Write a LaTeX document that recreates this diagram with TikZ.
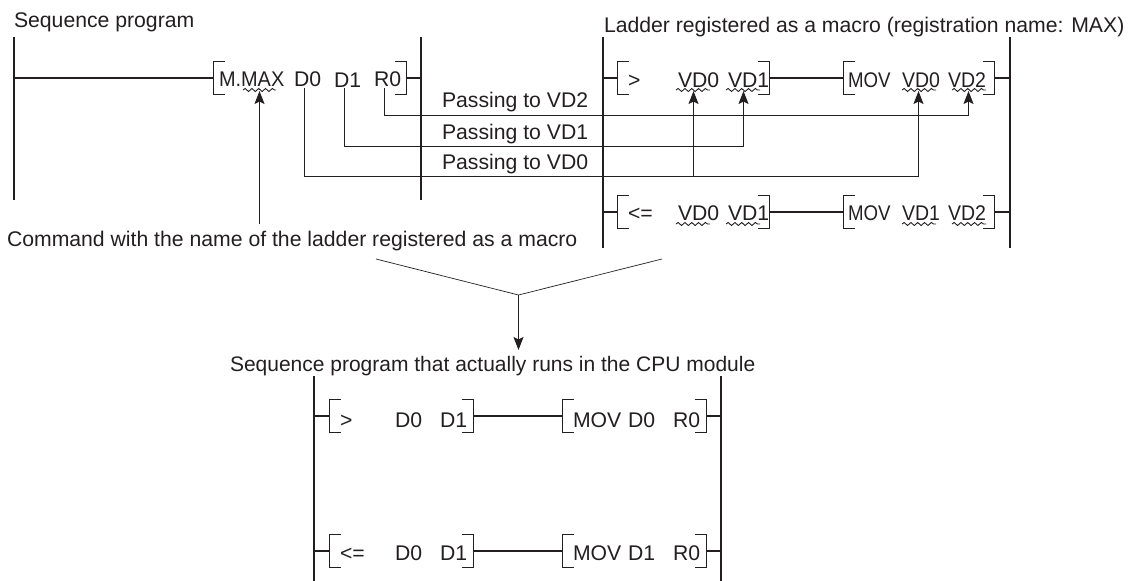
\documentclass[tikz,border=0pt]{standalone}
\usepackage{fontspec}
\setmainfont{Liberation Sans}
\usetikzlibrary{arrows.meta,decorations.pathmorphing}
\definecolor{ink}{HTML}{231F20}
\tikzset{
  txt/.style={anchor=base west,inner sep=0pt,outer sep=0pt,text=ink,font=\fontsize{21.2}{25}\selectfont},
  rail/.style={draw=ink,line width=2pt},
  rung/.style={draw=ink,line width=1.7pt},
  brk/.style={draw=ink,line width=1pt},
  wire/.style={draw=ink,line width=1pt},
  awire/.style={wire,-{Stealth[length=13pt,width=10pt,inset=2.5pt]}},
  thin line/.style={draw=ink,line width=0.7pt},
  wave/.style={draw=ink,line width=0.9pt,decorate,decoration={snake,amplitude=1.5pt,segment length=6.8pt}}
}
\newcommand{\brL}[3]{\coordinate (#1) at (#2,#3);\draw[brk] ({#2+11.5},{#3-16.5}) -| ({#2+0.5},{#3+16.5}) -- ({#2+11.5},{#3+16.5});}
\newcommand{\brR}[3]{\coordinate (#1) at (#2,#3);\draw[brk] ({#2-11.5},{#3-16.5}) -| ({#2+0.5},{#3+16.5}) -- ({#2-11.5},{#3+16.5});}
\newcommand{\wv}[3]{\draw[wave] (#1,#3) -- (#2,#3);}
\newcommand{\nar}[2]{\scalebox{#1}[1]{#2}}
\begin{document}
\begin{tikzpicture}[x=1pt,y=-1pt]
\useasboundingbox (0,0) rectangle (1130,581);
% captions
\node[txt] (capA) at (14,27) {Sequence program};
\node[txt] (capB) at (604,32) {Ladder registered as a macro (registration name: MAX)};
\node[txt] (capC) at (7,246) {Command with the name of the ladder registered as a macro};
\node[txt,font=\fontsize{21}{25}\selectfont] (capD) at (230,371) {Sequence program that actually runs in the CPU module};
\node[txt] (pass2) at (442,107) {Passing to VD2};
\node[txt] (pass1) at (442,139) {Passing to VD1};
\node[txt] (pass0) at (442,169) {Passing to VD0};
% rails
\coordinate (a1) at (14,37); \coordinate (a2) at (14,200);
\coordinate (b1) at (421,37); \coordinate (b2) at (421,200);
\coordinate (c1) at (603,37); \coordinate (c2) at (603,248);
\coordinate (d1) at (1010,37); \coordinate (d2) at (1010,248);
\coordinate (e1) at (314,376); \coordinate (e2) at (314,581);
\coordinate (f1) at (721,376); \coordinate (f2) at (721,581);
\draw[rail] (a1) -- (a2);
\draw[rail] (b1) -- (b2);
\draw[rail] (c1) -- (c2);
\draw[rail] (d1) -- (d2);
\draw[rail] (e1) -- (e2);
\draw[rail] (f1) -- (f2);
% main program
\brL{mL}{213}{78} \brR{mR}{406}{78}
\draw[rung] (a1 |- mL) -- (mL);
\draw[rung] (mR) -- (b1 |- mR);
\node[txt] (mmax) at (219,86) {\nar{0.94}{M.MAX}};
\node[txt] (md0) at (294,86) {D0};
\node[txt] (md1) at (334,87) {D1};
\node[txt] (mr0) at (374,86) {R0};
\wv{243}{276}{90}
% macro ladder, rung 1
\brL{p1}{617}{78} \brR{p2}{769}{78} \brL{p3}{843}{78} \brR{p4}{994}{78}
\draw[rung] (c1 |- p1) -- (p1);
\draw[rung] (p2) -- (p3);
\draw[rung] (p4) -- (d1 |- p4);
\node[txt] (pgt) at (628,87) {>};
\node[txt] (pv0) at (678,87) {VD0};
\node[txt] (pv1) at (728,87) {VD1};
\node[txt] (pmov) at (848,87) {\nar{0.88}{MOV}};
\node[txt] (pv0b) at (902,87) {\nar{0.92}{VD0}};
\node[txt] (pv2) at (948,87) {\nar{0.92}{VD2}};
\wv{676}{710}{90} \wv{726}{760}{90} \wv{902}{936}{90} \wv{952}{986}{90}
% macro ladder, rung 2
\brL{q1}{617}{212} \brR{q2}{769}{212} \brL{q3}{843}{212} \brR{q4}{994}{212}
\draw[rung] (c1 |- q1) -- (q1);
\draw[rung] (q2) -- (q3);
\draw[rung] (q4) -- (d1 |- q4);
\node[txt] (qle) at (628,220) {<=};
\node[txt] (qv0) at (678,220) {VD0};
\node[txt] (qv1) at (728,220) {VD1};
\node[txt] (qmov) at (848,220) {\nar{0.88}{MOV}};
\node[txt] (qv1b) at (902,220) {\nar{0.92}{VD1}};
\node[txt] (qv2) at (948,220) {\nar{0.92}{VD2}};
\wv{676}{710}{224} \wv{726}{760}{224} \wv{902}{936}{224} \wv{952}{986}{224}
% passing wires
\coordinate (w0) at (304.5,88); \coordinate (w1) at (344.5,88); \coordinate (w2) at (384.5,88);
\coordinate (t0a) at (693.5,91); \coordinate (t1) at (743.5,91); \coordinate (t0b) at (918.5,91); \coordinate (t2) at (968.5,91);
\coordinate (j0a) at (693.5,176.5); \coordinate (j1) at (743.5,146.5); \coordinate (j0b) at (918.5,176.5); \coordinate (j2) at (968.5,115.5);
\coordinate (cap) at (259.5,224); \coordinate (capt) at (259.5,91);
\draw[wire] (w2) |- (j2);
\draw[awire] (j2) -- (t2);
\draw[wire] (w1) |- (j1);
\draw[awire] (j1) -- (t1);
\draw[wire] (w0) |- (j0b);
\draw[awire] (j0b) -- (t0b);
\draw[awire] (j0a) -- (t0a);
\draw[awire] (cap) -- (capt);
% merge lines
\coordinate (vl) at (376,259); \coordinate (vm) at (518.5,295); \coordinate (vr) at (662,259); \coordinate (vt) at (518.5,350);
\draw[thin line] (vl) -- (vm) -- (vr);
\draw[awire] (vm) -- (vt);
% CPU program
\brL{r1}{329}{416} \brR{r2}{473}{416} \brL{r3}{562}{416} \brR{r4}{706}{416}
\draw[rung] (e1 |- r1) -- (r1);
\draw[rung] (r2) -- (r3);
\draw[rung] (r4) -- (f1 |- r4);
\node[txt] (rgt) at (340,427) {>};
\node[txt] (rd0) at (395,427) {D0};
\node[txt] (rd1) at (440,427) {D1};
\node[txt] (rmov) at (573,427) {MOV};
\node[txt] (rd0b) at (628,427) {D0};
\node[txt] (rr0) at (673,427) {R0};
\brL{s1}{329}{551} \brR{s2}{473}{551} \brL{s3}{562}{551} \brR{s4}{706}{551}
\draw[rung] (e1 |- s1) -- (s1);
\draw[rung] (s2) -- (s3);
\draw[rung] (s4) -- (f1 |- s4);
\node[txt] (sle) at (340,560) {<=};
\node[txt] (sd0) at (395,560) {D0};
\node[txt] (sd1) at (440,560) {D1};
\node[txt] (smov) at (573,560) {MOV};
\node[txt] (sd1b) at (628,560) {D1};
\node[txt] (sr0) at (673,560) {R0};
\end{tikzpicture}
\end{document}
